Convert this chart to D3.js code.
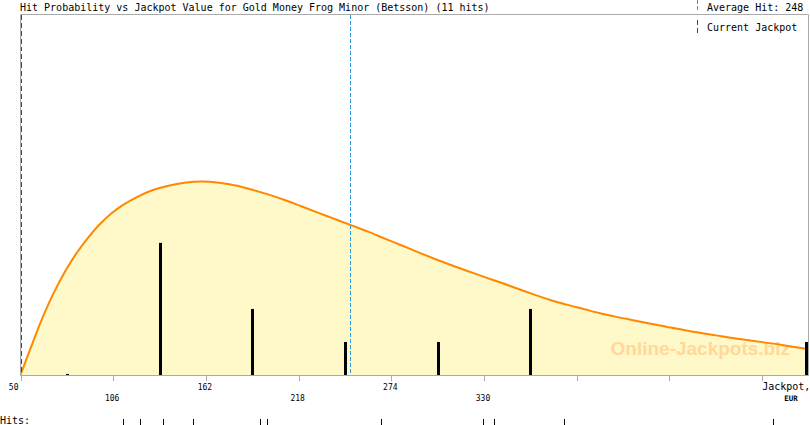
<!DOCTYPE html>
<html>
<head>
<meta charset="utf-8">
<script src="https://cdn.jsdelivr.net/npm/d3@7.9.0/dist/d3.min.js"></script>
<style>
  body { margin: 0; background: #fff; }
  svg { display: block; }
  text { font-family: "DejaVu Sans Mono", monospace; fill: #000; }
  line { shape-rendering: crispEdges; }
</style>
</head>
<body>
<svg id="chart" width="810" height="425"></svg>
<script>
// Histogram bins (centre of each 56 EUR bin) and number of hits in it
const binCenters = [78, 134, 190, 246, 302, 358, 526];
const binCounts = [0, 4, 2, 1, 1, 2, 1];

// Individual hit values (EUR), shown in the "Hits:" strip
const hits = [111.7, 122.4, 136.3, 154.4, 194.9, 199.1, 267.8, 329.6, 336.2, 378.5, 504.7];

// Probability curve (same units as the bins)
const curveX = [50, 56, 63, 70, 77, 84, 91, 98, 105, 112, 120, 130, 140, 150, 160, 170,
  180, 190, 200, 210, 220, 230, 240, 250, 260, 270, 280, 290, 300, 310, 320, 330, 340,
  350, 360, 370, 380, 390, 400, 410, 420, 430, 440, 450, 460, 470, 480, 490, 500, 510, 526];
const curveY = [0, 0.80, 1.70, 2.48, 3.14, 3.70, 4.17, 4.57, 4.90, 5.15, 5.38, 5.60, 5.74, 5.83, 5.86, 5.82,
  5.74, 5.61, 5.46, 5.29, 5.10, 4.91, 4.72, 4.53, 4.34, 4.13, 3.93, 3.72, 3.52, 3.33, 3.15, 2.97, 2.80,
  2.62, 2.44, 2.27, 2.13, 2.00, 1.87, 1.76, 1.66, 1.56, 1.46, 1.37, 1.28, 1.20, 1.12, 1.05, 0.98, 0.91, 0.78];

const tickValues = [50, 106, 162, 218, 274, 330, 386, 442, 498];
const tickLabels = ['50', '106', '162', '218', '274', '330', '', '', 'Jackpot,'];
const currentJackpot = 50;
const title = 'Hit Probability vs Jackpot Value for Gold Money Frog Minor (Betsson) (11 hits)';

const pLeft = 20.5, pRight = 808.5, pTop = 14.5, pBottom = 375.5;
const blue = '#2a9be0', red = '#c01010';

const svg = d3.select('#chart');
const x = d3.scaleLinear().domain([50, 526]).range([pLeft, pRight]);
const y = d3.scaleLinear().domain([0, 10.9]).range([375, 15]);

svg.append('defs').append('clipPath').attr('id', 'plot')
  .append('rect').attr('x', pLeft).attr('y', pTop).attr('width', pRight - pLeft).attr('height', pBottom - pTop);

const plot = svg.append('g').attr('clip-path', 'url(#plot)');
const pts = curveX.map((v, i) => [v, curveY[i]]);

// filled area under the curve
plot.append('path')
  .datum(pts)
  .attr('fill', '#fff8c8')
  .attr('d', d3.area().x((d) => x(d[0])).y0(375).y1((d) => y(d[1])).curve(d3.curveCatmullRom));

// watermark
plot.append('text')
  .attr('x', 790).attr('y', 355)
  .attr('text-anchor', 'end')
  .style('font-family', '"Liberation Sans", Arial, sans-serif')
  .style('font-weight', 'bold')
  .style('font-size', '19px')
  .style('fill', '#ffd89a')
  .text('Online-Jackpots.biz');

// curve
plot.append('path')
  .datum(pts)
  .attr('fill', 'none')
  .attr('stroke', '#ff8800')
  .attr('stroke-width', 2)
  .attr('d', d3.line().x((d) => x(d[0])).y((d) => y(d[1])).curve(d3.curveCatmullRom));

// histogram bars (the last one sits on the right border, keep it inside)
plot.selectAll('rect.bar')
  .data(binCenters)
  .join('rect')
  .attr('class', 'bar')
  .attr('x', (d) => Math.min(Math.round(x(d)) - 1, 805))
  .attr('width', 3)
  .attr('y', (d, i) => Math.min(y(binCounts[i]), 374))
  .attr('height', (d, i) => Math.max(1, 375 - y(binCounts[i])))
  .attr('fill', '#000');

// average and current jackpot lines
const avgHit = d3.mean(hits);
const avgX = Math.ceil(x(avgHit)) + 0.5;
plot.append('line')
  .attr('x1', avgX).attr('x2', avgX)
  .attr('y1', pTop).attr('y2', pBottom)
  .attr('stroke', blue).attr('stroke-dasharray', '4,2');
const curX = Math.floor(x(currentJackpot)) + 1.5;
plot.append('line')
  .attr('x1', curX).attr('x2', curX)
  .attr('y1', pTop).attr('y2', pBottom)
  .attr('stroke', red).attr('stroke-dasharray', '5,3');

// frame
svg.append('path')
  .attr('d', `M${pLeft},${pBottom}V${pTop}H${pRight}V${pBottom}H${pLeft}`)
  .attr('fill', 'none').attr('stroke', '#aaaaaa');

// axis ticks
const axis = svg.append('g')
  .attr('transform', `translate(0,${pBottom})`)
  .call(d3.axisBottom(x).tickValues(tickValues).tickSize(5).tickFormat(''));
axis.select('.domain').remove();
axis.selectAll('line').attr('stroke', '#aaaaaa');

// tick labels, alternating rows
tickValues.forEach((v, i) => {
  const lbl = tickLabels[i];
  if (!lbl) return;
  const t = svg.append('text').text(lbl);
  if (i === 0) {
    t.attr('x', x(v) - 2).attr('y', 390).attr('text-anchor', 'end').style('font-size', '8px');
  } else if (i === tickValues.length - 1) {
    t.attr('x', x(v)).attr('y', 390).style('font-size', '10px');
  } else {
    t.attr('x', x(v) - 1).attr('y', i % 2 ? 401 : 390).attr('text-anchor', 'middle').style('font-size', '8px');
  }
});
svg.append('text').attr('x', 791).attr('y', 401).attr('text-anchor', 'middle')
  .style('font-size', '7.5px').style('font-weight', 'bold').text('EUR');

// hits strip
svg.append('text').attr('x', 0).attr('y', 424).style('font-size', '10px').text('Hits:');
svg.selectAll('line.hit')
  .data(hits)
  .join('line')
  .attr('class', 'hit')
  .attr('x1', (d) => Math.round(x(d)) + 0.5).attr('x2', (d) => Math.round(x(d)) + 0.5)
  .attr('y1', 419).attr('y2', 425)
  .attr('stroke', '#000');

// title and legend
svg.append('text').attr('x', 20).attr('y', 11).style('font-size', '10px').text(title);
svg.append('line').attr('x1', 697.5).attr('x2', 697.5).attr('y1', 0).attr('y2', 11)
  .attr('stroke', blue).attr('stroke-dasharray', '4,2');
svg.append('text').attr('x', 707).attr('y', 11).style('font-size', '10px')
  .text(`Average Hit: ${Math.floor(avgHit)}`);
svg.append('line').attr('x1', 697.5).attr('x2', 697.5).attr('y1', 20).attr('y2', 33)
  .attr('stroke', red).attr('stroke-dasharray', '5,3');
svg.append('text').attr('x', 707).attr('y', 31).style('font-size', '10px').text('Current Jackpot');
</script>
</body>
</html>
